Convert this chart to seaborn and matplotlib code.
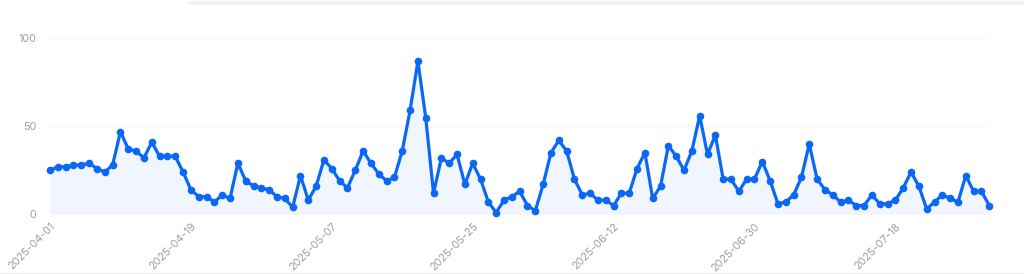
import numpy as np
import pandas as pd
import matplotlib
matplotlib.use("Agg")
import matplotlib.pyplot as plt
import seaborn as sns

start_date = "2025-04-01"
values = [25, 27, 27, 28, 28, 29, 26, 24, 28, 47,
          37, 36, 32, 41, 33, 33, 33, 24, 14, 10,
          10, 7, 11, 9, 29, 19, 16, 15, 14, 10,
          9, 4, 22, 8, 16, 31, 26, 19, 15, 25,
          36, 29, 23, 19, 21, 36, 59, 87, 55, 12,
          32, 29, 34, 17, 29, 20, 7, 1, 8, 10,
          13, 5, 2, 17, 35, 42, 36, 20, 11, 12,
          8, 8, 5, 12, 12, 26, 35, 9, 16, 39,
          33, 25, 36, 56, 34, 45, 20, 20, 13, 20,
          20, 30, 19, 6, 7, 11, 21, 40, 20, 14,
          11, 7, 8, 5, 5, 11, 6, 6, 8, 15,
          24, 16, 3, 7, 11, 9, 7, 22, 13, 13, 5]
tick_labels = ["2025-04-01", "2025-04-19", "2025-05-07", "2025-05-25",
               "2025-06-12", "2025-06-30", "2025-07-18"]
y_ticks = [0, 50, 100]

dates = pd.date_range(start_date, periods=len(values), freq="D")
df = pd.DataFrame({"date": dates, "value": values})

sns.set_theme(style="white")
plt.rcParams["font.family"] = ["Inter", "DejaVu Sans"]

line_color = "#0b68f6"
text_color = "#9a9ea6"

fig = plt.figure(figsize=(10.24, 2.74), dpi=100)
ax = fig.add_axes([50 / 1024, 1 - 214.3 / 274, (989.3 - 50) / 1024, (214.3 - 38.3) / 274])

ax.fill_between(df["date"], df["value"], 0, color="#f1f5fe", linewidth=0, zorder=1)
sns.lineplot(data=df, x="date", y="value", ax=ax, color=line_color, linewidth=2.3,
             marker="o", markersize=5.5, markeredgewidth=0, zorder=3, clip_on=False)

ax.set_xlim(dates[0], dates[-1])
ax.set_ylim(0, 100)
ax.set_yticks(y_ticks)
ax.set_yticklabels([str(v) for v in y_ticks])
ax.set_xticks(pd.to_datetime(tick_labels))
ax.set_xticklabels(tick_labels, rotation=45, ha="right", rotation_mode="anchor")
ax.tick_params(axis="both", length=0, labelsize=7.8, labelcolor=text_color)
ax.tick_params(axis="y", pad=10)
ax.tick_params(axis="x", pad=5)
ax.set_xlabel("")
ax.set_ylabel("")
ax.grid(axis="y", color="#f6f7f9", linewidth=0.8)
ax.set_axisbelow(True)
for s in ax.spines.values():
    s.set_visible(False)
ax.patch.set_alpha(0)

# faint card edges
fig.add_artist(plt.Line2D([190 / 1024, 1], [1 - 3 / 274, 1 - 3 / 274], color="#f2f3f6", linewidth=3))
fig.add_artist(plt.Line2D([0, 1], [1 / 274, 1 / 274], color="#eceef1", linewidth=1))

fig.savefig("out.png", dpi=100)
